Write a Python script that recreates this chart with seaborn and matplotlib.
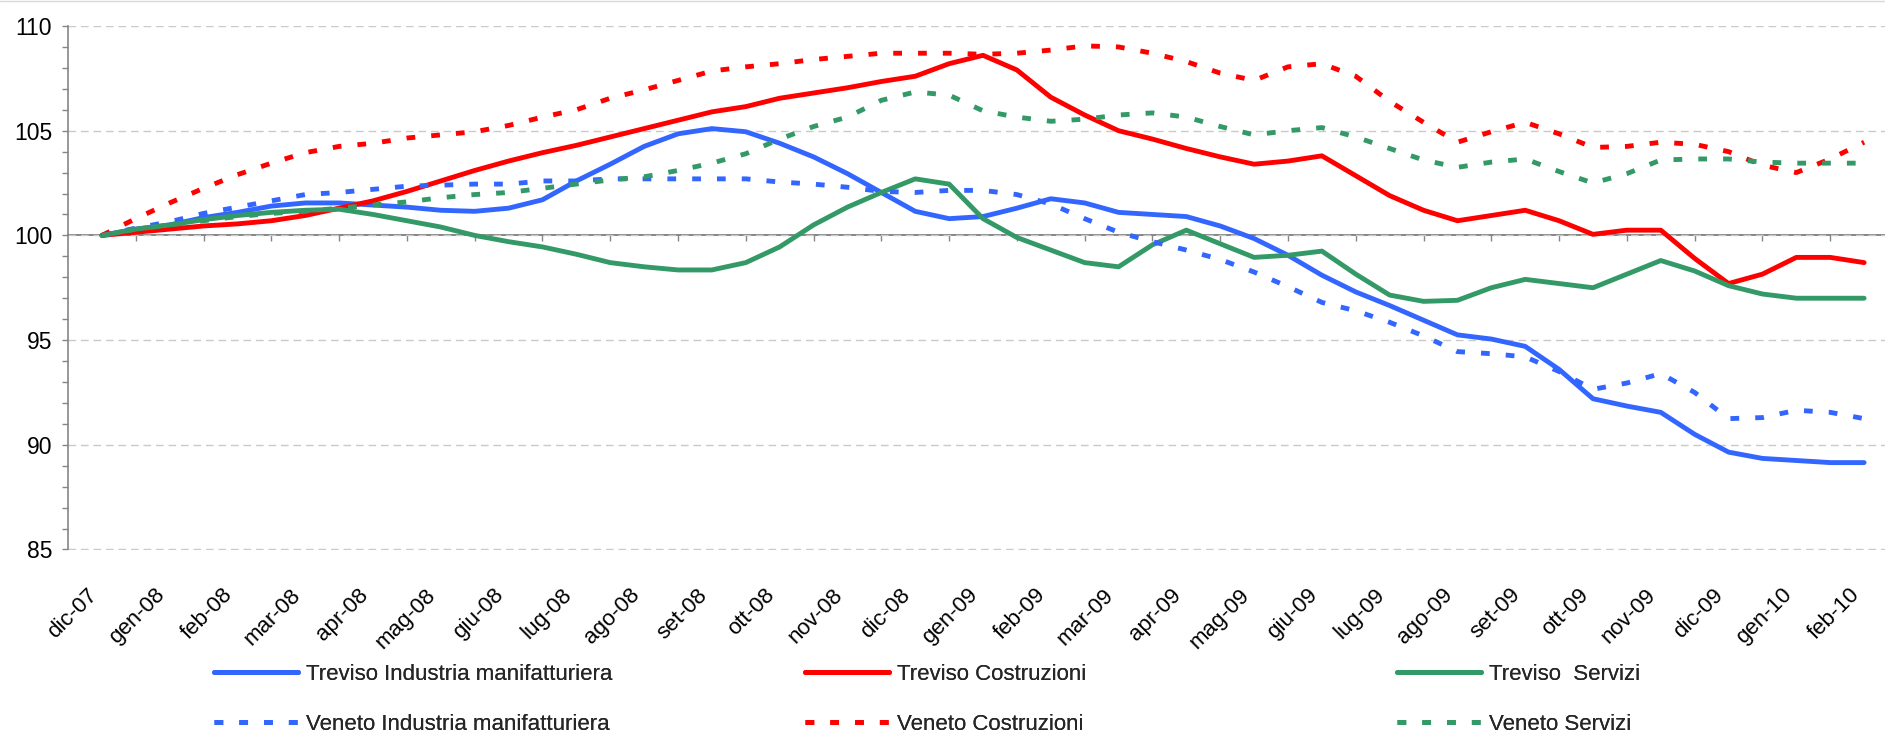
import numpy as np
import pandas as pd
import matplotlib
matplotlib.use("Agg")
import matplotlib.pyplot as plt
from matplotlib.lines import Line2D
from matplotlib.transforms import ScaledTranslation
import seaborn as sns

# Month labels (one category per month)
months = ["dic-07", "gen-08", "feb-08", "mar-08", "apr-08", "mag-08", "giu-08",
          "lug-08", "ago-08", "set-08", "ott-08", "nov-08", "dic-08", "gen-09",
          "feb-09", "mar-09", "apr-09", "mag-09", "giu-09", "lug-09", "ago-09",
          "set-09", "ott-09", "nov-09", "dic-09", "gen-10", "feb-10"]

# Index values (dic-07 = 100), sampled twice per month
treviso_industria = [100.0, 100.3, 100.5, 100.85, 101.1, 101.4, 101.55, 101.55, 101.45, 101.35,
                     101.2, 101.15, 101.3, 101.7, 102.6, 103.4, 104.25, 104.85, 105.1, 104.95,
                     104.4, 103.75, 102.95, 102.05, 101.15, 100.8, 100.9, 101.3, 101.75, 101.55,
                     101.1, 101.0, 100.9, 100.45, 99.85, 99.05, 98.1, 97.3, 96.65, 95.95,
                     95.25, 95.05, 94.7, 93.6, 92.2, 91.85, 91.55, 90.5, 89.65, 89.35,
                     89.25, 89.15, 89.15]
treviso_costruzioni = [100.0, 100.15, 100.3, 100.45, 100.55, 100.7, 100.95, 101.3, 101.65, 102.1,
                       102.6, 103.1, 103.55, 103.95, 104.3, 104.7, 105.1, 105.5, 105.9, 106.15,
                       106.55, 106.8, 107.05, 107.35, 107.6, 108.2, 108.6, 107.9, 106.6, 105.75,
                       105.0, 104.6, 104.15, 103.75, 103.4, 103.55, 103.8, 102.85, 101.9, 101.2,
                       100.7, 100.95, 101.2, 100.7, 100.05, 100.25, 100.25, 98.9, 97.7, 98.15,
                       98.95, 98.95, 98.7]
treviso_servizi = [100.0, 100.3, 100.5, 100.75, 100.95, 101.1, 101.2, 101.25, 101.0, 100.7,
                   100.4, 100.0, 99.7, 99.45, 99.1, 98.7, 98.5, 98.35, 98.35, 98.7,
                   99.45, 100.5, 101.35, 102.05, 102.7, 102.45, 100.8, 99.9, 99.3, 98.7,
                   98.5, 99.55, 100.25, 99.6, 98.95, 99.05, 99.25, 98.15, 97.15, 96.85,
                   96.9, 97.5, 97.9, 97.7, 97.5, 98.15, 98.8, 98.3, 97.6, 97.2,
                   97.0, 97.0, 97.0]
veneto_industria = [100.0, 100.35, 100.65, 101.05, 101.35, 101.65, 101.95, 102.05, 102.2, 102.35,
                    102.4, 102.45, 102.45, 102.6, 102.6, 102.7, 102.7, 102.7, 102.7, 102.7,
                    102.55, 102.45, 102.3, 102.1, 102.05, 102.15, 102.15, 101.95, 101.5, 100.8,
                    100.15, 99.7, 99.3, 98.85, 98.25, 97.55, 96.8, 96.4, 95.85, 95.2,
                    94.45, 94.35, 94.2, 93.5, 92.65, 92.95, 93.4, 92.5, 91.25, 91.3,
                    91.65, 91.55, 91.25]
veneto_costruzioni = [100.0, 100.8, 101.55, 102.25, 102.9, 103.45, 103.95, 104.25, 104.4, 104.65,
                      104.8, 104.95, 105.25, 105.65, 106.0, 106.55, 106.95, 107.4, 107.85, 108.05,
                      108.2, 108.4, 108.55, 108.7, 108.7, 108.7, 108.65, 108.7, 108.85, 109.05,
                      109.0, 108.7, 108.3, 107.75, 107.4, 108.05, 108.2, 107.6, 106.4, 105.4,
                      104.45, 104.95, 105.4, 104.85, 104.2, 104.25, 104.45, 104.35, 104.0, 103.35,
                      103.0, 103.65, 104.45]
veneto_servizi = [100.0, 100.3, 100.5, 100.7, 100.9, 101.05, 101.15, 101.3, 101.45, 101.6,
                  101.8, 101.95, 102.05, 102.25, 102.45, 102.65, 102.8, 103.1, 103.45, 103.9,
                  104.6, 105.2, 105.65, 106.45, 106.85, 106.7, 105.95, 105.65, 105.45, 105.55,
                  105.75, 105.85, 105.65, 105.2, 104.8, 105.0, 105.15, 104.7, 104.15, 103.6,
                  103.25, 103.5, 103.65, 103.05, 102.5, 102.95, 103.6, 103.65, 103.65, 103.5,
                  103.45, 103.45, 103.45]

BLUE, RED, GREEN = "#3366FF", "#FF0000", "#339966"
SOLID = "-"
DOTTED = (0, (1.8, 3.3))

series = [
    ("Treviso Industria manifatturiera", treviso_industria, BLUE, SOLID),
    ("Treviso Costruzioni", treviso_costruzioni, RED, SOLID),
    ("Treviso  Servizi", treviso_servizi, GREEN, SOLID),
    ("Veneto Industria manifatturiera", veneto_industria, BLUE, DOTTED),
    ("Veneto Costruzioni", veneto_costruzioni, RED, DOTTED),
    ("Veneto Servizi", veneto_servizi, GREEN, DOTTED),
]

sns.set_style("white")
plt.rcParams["font.family"] = ["Liberation Sans", "DejaVu Sans"]

W, H = 1885, 733
fig = plt.figure(figsize=(W / 100, H / 100), dpi=100)
fig.patch.set_facecolor("white")

YMIN, YMAX = 85, 110
left_px, right_px, top_px, bottom_px = 68, 1898, 26, 549.5
ax = fig.add_axes([left_px / W, 1 - bottom_px / H,
                   (right_px - left_px) / W, (bottom_px - top_px) / H])

handles = {}
for name, values, color, style in series:
    frame = pd.DataFrame({"pos": np.arange(len(values)) / 2.0, "value": values})
    sns.lineplot(data=frame, x="pos", y="value", ax=ax, color=color,
                 linewidth=3.5, linestyle=style, errorbar=None, legend=False,
                 solid_capstyle="round", solid_joinstyle="round",
                 dash_capstyle="butt", dash_joinstyle="round")
    handles[name] = ax.lines[-1]

ax.set_xlim(-0.5, len(months) - 0.5)
ax.set_ylim(YMIN, YMAX)
ax.set_xlabel("")
ax.set_ylabel("")

# y axis: labels every 5, ticks every 1
ax.set_yticks(np.arange(YMIN, YMAX + 1, 5))
ax.set_yticks(np.arange(YMIN, YMAX + 1, 1), minor=True)
ax.tick_params(axis="y", which="both", direction="out", length=4.3, width=1.0,
               color="#868686", left=True, labelsize=16.5, pad=7.2, labelcolor="black")
ax.yaxis.grid(True, which="major", color="#cacaca", linestyle=(0, (5.5, 3.5)), linewidth=1.0)
ax.xaxis.grid(False)

# month labels along the bottom
ax.set_xticks(np.arange(len(months)))
ax.set_xticklabels(months, rotation=45, ha="right", va="center", rotation_mode="anchor")
ax.tick_params(axis="x", length=0, pad=30.5, labelsize=16, labelcolor="black")
shift = ScaledTranslation(-8 / 100, 0, fig.dpi_scale_trans)
for lbl in ax.get_xticklabels():
    lbl.set_transform(lbl.get_transform() + shift)

for side in ("top", "right", "bottom"):
    ax.spines[side].set_visible(False)
ax.spines["left"].set_color("#868686")
ax.spines["left"].set_linewidth(1.2)

# category axis crossing at 100, with tick marks between months
base = (100 - YMIN) / (YMAX - YMIN)
sec = ax.secondary_xaxis(base)
sec.set_alignment("bottom")
sec.set_xticks(np.arange(0.5, len(months) - 0.5, 1.0))
sec.tick_params(axis="x", direction="out", length=4.3, width=1.0, color="#868686",
                labelbottom=False, labeltop=False)
sec.spines["bottom"].set_color("#868686")
sec.spines["bottom"].set_linewidth(1.4)

# legend: three columns of two rows each
columns = [
    (214, ["Treviso Industria manifatturiera", "Veneto Industria manifatturiera"]),
    (805, ["Treviso Costruzioni", "Veneto Costruzioni"]),
    (1397, ["Treviso  Servizi", "Veneto Servizi"]),
]
for x_px, names in columns:
    leg = fig.legend([handles[n] for n in names], names, loc="center left",
                     bbox_to_anchor=(x_px / W, 1 - 699.5 / H), bbox_transform=fig.transFigure,
                     frameon=False, borderpad=0, borderaxespad=0, fontsize=16,
                     handlelength=3.8, handletextpad=0.36, labelspacing=1.3)
    fig.add_artist(leg)

fig.add_artist(Line2D([0, 1], [1 - 0.6 / H] * 2, transform=fig.transFigure,
                      color="#d9d9d9", linewidth=1.0))

fig.savefig("out.png", dpi=100, facecolor="white")
